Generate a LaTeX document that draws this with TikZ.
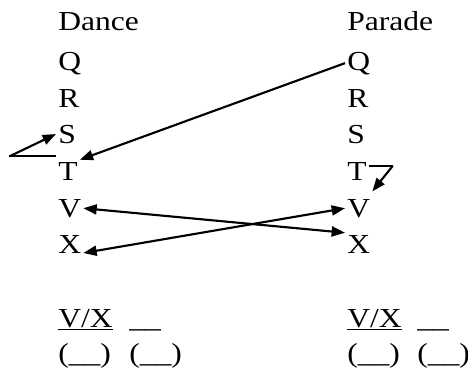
\documentclass[tikz,border=0pt]{standalone}
\usepackage{fontspec}
\setmainfont[FakeStretch=1.15]{Liberation Serif}
\usepackage{tikz}
\usetikzlibrary{arrows.meta}

\begin{document}
\begin{tikzpicture}[
  x=0.75pt, y=-0.75pt,
  font=\fontsize{20.6}{24}\selectfont,
  letter/.style={anchor=base west, inner sep=1.5pt},
  link/.style={line width=1.6pt, draw=black},
  fleche/.style={
    -{Triangle[length=10pt, width=7.5pt]},
    line width=1.6pt, draw=black
  },
  double/.style={
    {Triangle[length=10pt, width=7.5pt]}-{Triangle[length=10pt, width=7.5pt]},
    line width=1.6pt, draw=black
  }
]
  \useasboundingbox (0,0) rectangle (468,371);

  % Dance column
  \node[letter] (dance) at (56,31) {Dance};
  \node[letter] (dq) at (56,70) {Q};
  \node[letter] (dr) at (56,107) {R};
  \node[letter] (ds) at (56,143) {S};
  \node[letter] (dt) at (56,180) {T};
  \node[letter] (dv) at (56,217) {V};
  \node[letter] (dx) at (56,253) {X};

  % Parade column
  \node[letter] (parade) at (345,31) {Parade};
  \node[letter] (pq) at (345,70) {Q};
  \node[letter] (pr) at (345,107) {R};
  \node[letter] (ps) at (345,143) {S};
  \node[letter] (pt) at (345,180) {T};
  \node[letter] (pv) at (345,217) {V};
  \node[letter] (px) at (345,253) {X};

  % answer blanks
  \node[letter] (dvx) at (56,327) {\underline{V/X}};
  \node[letter] (dblank) at (127,327) {\_\_};
  \node[letter] (dparA) at (56,362) {(\_\_)};
  \node[letter] (dparB) at (127,362) {(\_\_)};
  \node[letter] (pvx) at (345,327) {\underline{V/X}};
  \node[letter] (pblank) at (415,327) {\_\_};
  \node[letter] (pparA) at (345,362) {(\_\_)};
  \node[letter] (pparB) at (415,362) {(\_\_)};

  \coordinate (tcorner) at ([yshift=2.5pt]dt.north west);
  \coordinate (lft) at ([xshift=-35pt]tcorner);
  \coordinate (tside) at ([yshift=-4.5pt]pt.north east);
  \coordinate (rgt) at ([xshift=18pt]tside);

  \draw[fleche] (pq.west) -- (dt.north east);
  \draw[link] (lft) -- (tcorner);
  \draw[fleche] (lft) -- (ds.west);
  \draw[link] (tside) -- (rgt);
  \draw[fleche] (rgt) -- ([yshift=4pt]pv.north east);
  \draw[double] (dv.east) -- (px.north west);
  \draw[double] (dx.base east) -- (pv.west);
\end{tikzpicture}
\end{document}
